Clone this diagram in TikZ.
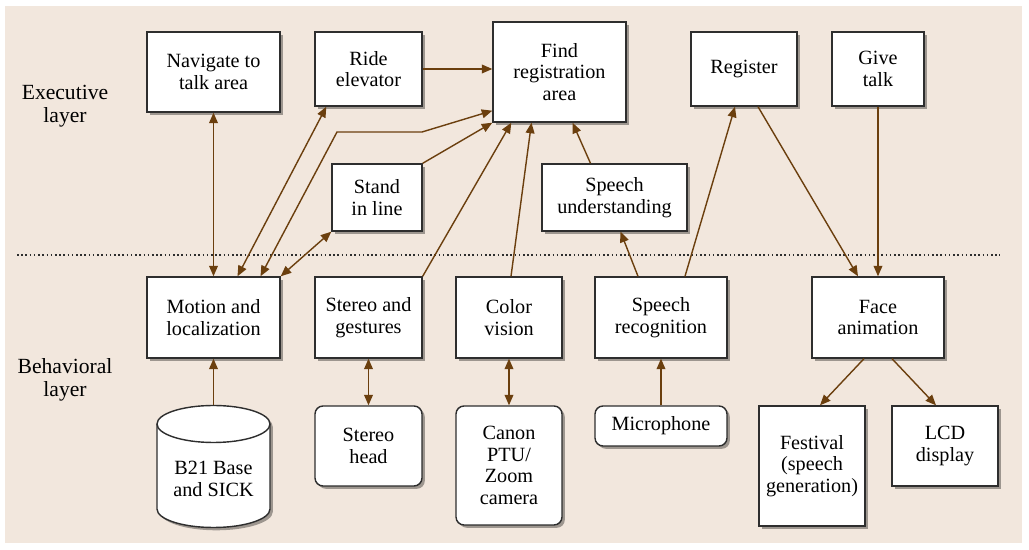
\documentclass[tikz,border=0pt]{standalone}
\usepackage{fontspec}
\setmainfont{Liberation Serif}
\usetikzlibrary{arrows.meta,shadows,calc}
\definecolor{paper}{HTML}{F2E7DD}
\definecolor{wire}{HTML}{6B3F0E}
\definecolor{frame}{HTML}{2E2E2E}
\tikzset{
  shade/.style={drop shadow={shadow xshift=1.6pt, shadow yshift=-1.6pt, fill=black, opacity=0.35}},
  blk/.style={draw=frame, line width=0.8pt, fill=white, align=center, inner sep=2pt,
    font=\fontsize{11.5}{12.4}\selectfont, shade},
  rblk/.style={blk, rounded corners=0.16cm},
  feed/.style={draw=wire, line width=0.8pt, -{Triangle[length=6pt,width=5pt]}},
  twoway/.style={feed, {Triangle[length=6pt,width=5pt]}-{Triangle[length=6pt,width=5pt]}},
  layertext/.style={align=center, font=\fontsize{12.3}{13.2}\selectfont}
}
\begin{document}
\begin{tikzpicture}[x=0.02cm,y=-0.02cm]
\useasboundingbox (0,0) rectangle (1029,550);
\fill[paper] (5,6) rectangle (1022,543);
\draw[frame, line width=0.8pt, dash pattern=on 0.9pt off 1.5pt] (17,255) -- (1000,255);
%layers
\node[layertext] (exec) at (65,106) {Executive\\layer};
\node[layertext] (behav) at (65,380) {Behavioral\\layer};
%executive
\node[blk, minimum width=2.66cm, minimum height=1.6cm] (nav) at (213.5,72) {Navigate to\\talk area};
\node[blk, minimum width=2.14cm, minimum height=1.48cm] (ride) at (368.5,69) {Ride\\elevator};
\node[blk, minimum width=2.66cm, minimum height=2cm] (find) at (559.5,72) {Find\\registration\\area};
\node[blk, minimum width=2.12cm, minimum height=1.48cm] (register) at (744,69) {Register};
\node[blk, minimum width=1.84cm, minimum height=1.48cm] (give) at (878,69) {Give\\talk};
\node[blk, minimum width=1.8cm, minimum height=1.34cm] (stand) at (377,197.5) {Stand\\in line};
\node[blk, minimum width=2.9cm, minimum height=1.34cm] (su) at (614.5,197.5) {Speech\\understanding};
%behavioral
\node[blk, minimum width=2.66cm, minimum height=1.62cm] (motion) at (213.5,317.5) {Motion and\\localization};
\node[blk, minimum width=2.14cm, minimum height=1.62cm] (stereo) at (368.5,317.5) {Stereo and\\gestures};
\node[blk, minimum width=2.12cm, minimum height=1.62cm] (color) at (509,317.5) {Color\\vision};
\node[blk, minimum width=2.64cm, minimum height=1.62cm] (sr) at (661,317.5) {Speech\\recognition};
\node[blk, minimum width=2.64cm, minimum height=1.62cm] (face) at (878,317.5) {Face\\animation};
%devices
\node[minimum width=2.26cm, minimum height=2.44cm, inner sep=0pt] (b21) at (213.5,466.5) {};
\draw[frame, line width=0.8pt, fill=white, shade] (157,424) -- (157,509) arc (180:0:56.5 and 18.5) -- (270,424) arc (0:-180:56.5 and 18.5) -- cycle;
\draw[frame, line width=0.8pt] (157,424) arc (180:0:56.5 and 18.5);
\node[align=center, font=\fontsize{11.5}{12.4}\selectfont] (b21txt) at (213.5,479) {B21 Base\\and SICK};
\node[rblk, minimum width=2.14cm, minimum height=1.6cm] (sh) at (368.5,446) {Stereo\\head};
\node[rblk, minimum width=2.12cm, minimum height=2.38cm] (canon) at (509,465.5) {Canon\\PTU/\\Zoom\\camera};
\node[rblk, minimum width=2.64cm, minimum height=0.8cm] (mic) at (661,426) {Microphone};
\node[blk, minimum width=2.12cm, minimum height=2.4cm] (festival) at (812,466) {Festival\\(speech\\generation)};
\node[blk, minimum width=2.12cm, minimum height=1.6cm] (lcd) at (945,446) {LCD\\display};
%connections
\draw[twoway] (nav.south) -- (motion.north);
\draw[twoway] ($(motion.north)+(24,0)$) -- ($(ride.south west)+(12,0)$);
\draw[twoway] ($(motion.north)+(47,0)$) -- (337,132) -- (422,132) -- ($(find.south west)+(0,-12)$);
\draw[twoway] (motion.north east) -- (stand.south west);
\draw[feed] (stand.north east) -- (find.south west);
\draw[feed] (stereo.north east) -- ($(find.south west)+(19,0)$);
\draw[feed] ($(color.north)+(2,0)$) -- ($(find.south)+(-28,0)$);
\draw[feed] ($(su.north)+(-24,0)$) -- ($(find.south)+(13,0)$);
\draw[feed] (ride.east) -- (ride.east -| find.west);
\draw[feed] ($(sr.north)+(-23,0)$) -- ($(su.south)+(6,0)$);
\draw[feed] ($(sr.north)+(24,0)$) -- ($(register.south)+(-9,0)$);
\draw[feed] ($(register.south)+(14,0)$) -- ($(face.north)+(-20,0)$);
\draw[feed] (give.south) -- (face.north);
\draw[feed] (b21.north) -- (motion.south);
\draw[twoway] (stereo.south) -- (sh.north);
\draw[twoway] (color.south) -- (canon.north);
\draw[feed] (mic.north) -- (sr.south);
\draw[feed] ($(face.south)+(-14,0)$) -- ($(festival.north)+(8,0)$);
\draw[feed] ($(face.south)+(14,0)$) -- ($(lcd.north)+(-9,0)$);
\end{tikzpicture}
\end{document}
